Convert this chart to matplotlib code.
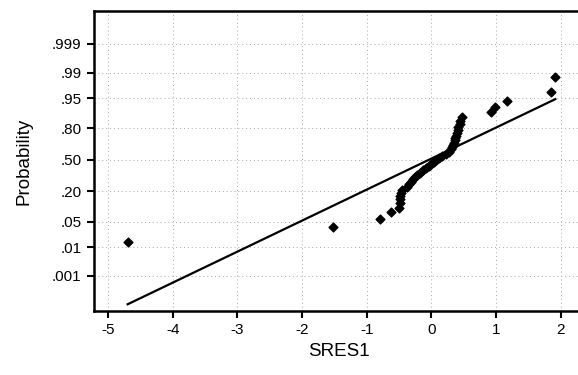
from statistics import NormalDist
import matplotlib.pyplot as plt

# standardized residuals, sorted
sres = [-4.70, -1.52, -0.80, -0.63, -0.50, -0.49, -0.48, -0.48, -0.47, -0.46,
        -0.38, -0.35, -0.31, -0.28, -0.25, -0.22, -0.18, -0.13, -0.08, -0.04,
        0.00, 0.04, 0.08, 0.12, 0.17, 0.22, 0.27, 0.30, 0.32, 0.33,
        0.35, 0.36, 0.37, 0.38, 0.40, 0.41, 0.42, 0.44, 0.45, 0.47,
        0.92, 0.98, 1.17, 1.86, 1.92]

# normal scores
nscore = [-2.20, -1.80, -1.57, -1.40, -1.27, -1.15, -1.05, -0.96, -0.88, -0.80,
          -0.72, -0.65, -0.59, -0.52, -0.46, -0.40, -0.34, -0.28, -0.22, -0.17,
          -0.11, -0.05, 0.00, 0.05, 0.11, 0.17, 0.22, 0.28, 0.34, 0.40,
          0.46, 0.52, 0.59, 0.65, 0.72, 0.80, 0.88, 0.96, 1.05, 1.15,
          1.27, 1.40, 1.57, 1.80, 2.20]

# fitted normal line
fit_mu = -0.04
fit_sigma = 1.21

prob_ticks = [0.001, 0.01, 0.05, 0.20, 0.50, 0.80, 0.95, 0.99, 0.999]
prob_labels = [".001", ".01", ".05", ".20", ".50", ".80", ".95", ".99", ".999"]
x_ticks = [-5, -4, -3, -2, -1, 0, 1, 2]

plt.rcParams["font.family"] = ["Liberation Sans", "DejaVu Sans"]

fig = plt.figure(figsize=(5.78, 3.75), dpi=100)
ax = fig.add_axes([94 / 578, 1 - 311 / 375, 1 - 94 / 578 + 0.01, 300 / 375])

# fitted line
x_line = [min(sres), max(sres)]
z_line = [(x - fit_mu) / fit_sigma for x in x_line]
ax.plot(x_line, z_line, color="black", lw=1.6, zorder=3)

# points
ax.scatter(sres, nscore, marker="D", s=20, color="black", zorder=4)

ax.set_xlim(-5.22, 2.36)
ax.set_ylim(-4.03, 3.97)

ax.set_xticks(x_ticks)
ax.set_xticklabels([str(t) for t in x_ticks])
ax.set_yticks([NormalDist().inv_cdf(p) for p in prob_ticks])
ax.set_yticklabels(prob_labels)

ax.grid(True, color="#aaaaaa", linestyle=(0, (1, 3)), lw=0.7)
ax.set_axisbelow(True)

for side in ["left", "bottom", "top"]:
    ax.spines[side].set_linewidth(1.8)
ax.spines["right"].set_visible(False)

ax.tick_params(direction="out", length=5, width=1.5, labelsize=11, pad=4)

ax.set_xlabel("SRES1", fontsize=13.5, labelpad=4)
ax.set_ylabel("Probability", fontsize=13.5, labelpad=14)

fig.savefig("out.png", dpi=100)
